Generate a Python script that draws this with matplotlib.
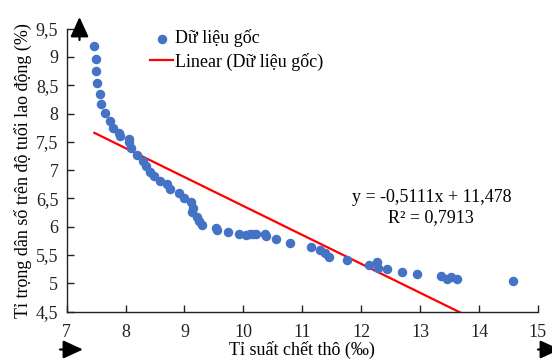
import numpy as np
import matplotlib
matplotlib.use("Agg")
import matplotlib.pyplot as plt
from matplotlib.ticker import FuncFormatter, MultipleLocator

# data
cdr = [7.47, 7.49, 7.49, 7.51, 7.57, 7.59, 7.65, 7.74, 7.79, 7.88,
       7.91, 8.05, 8.06, 8.10, 8.19, 8.30, 8.35, 8.41, 8.49, 8.58,
       8.70, 8.75, 8.90, 8.99, 9.11, 9.14, 9.13, 9.22, 9.25, 9.30,
       9.54, 9.56, 9.74, 9.93, 10.05, 10.11, 10.17, 10.21, 10.36, 10.39,
       10.55, 10.79, 11.15, 11.30, 11.38, 11.46, 11.76, 12.13, 12.26, 12.29,
       12.44, 12.69, 12.94, 13.36, 13.46, 13.53, 13.62, 14.58]
share = [9.20, 8.97, 8.75, 8.54, 8.35, 8.17, 8.01, 7.87, 7.74, 7.66,
         7.60, 7.55, 7.49, 7.39, 7.27, 7.17, 7.07, 6.97, 6.90, 6.81,
         6.75, 6.66, 6.59, 6.50, 6.43, 6.34, 6.26, 6.18, 6.11, 6.04,
         5.98, 5.94, 5.90, 5.87, 5.85, 5.87, 5.87, 5.88, 5.87, 5.84,
         5.78, 5.71, 5.65, 5.59, 5.53, 5.46, 5.41, 5.33, 5.37, 5.28,
         5.25, 5.21, 5.17, 5.13, 5.08, 5.11, 5.07, 5.04]

slope = -0.5111
intercept = 11.478
r2 = 0.7913

plt.rcParams['font.family'] = ['Liberation Serif', 'DejaVu Serif']

fig = plt.figure(figsize=(5.52, 3.61), dpi=100)
ax = fig.add_axes([0.1208, 0.1366, 0.8537, 0.7839])

ax.scatter(cdr, share, s=34, color="#4472C4", zorder=3, label="Dữ liệu gốc")
xl = np.array([min(cdr), max(cdr)])
ax.plot(xl, slope * xl + intercept, color="red", lw=1.6, label="Linear (Dữ liệu gốc)")

ax.set_xlim(7, 15)
ax.set_ylim(4.5, 9.5)
ax.xaxis.set_major_locator(MultipleLocator(1))
ax.yaxis.set_major_locator(MultipleLocator(0.5))
comma = FuncFormatter(lambda v, p: ("%g" % v).replace(".", ","))
ax.xaxis.set_major_formatter(comma)
ax.yaxis.set_major_formatter(comma)
ax.tick_params(direction="in", length=5, width=1, labelsize=13, colors="#222222", pad=6)
ax.tick_params(axis="x", pad=9)
for s in ["top", "right"]:
    ax.spines[s].set_visible(False)
for s in ["left", "bottom"]:
    ax.spines[s].set_color("#222222")
    ax.spines[s].set_linewidth(1)

ax.set_xlabel("Tỉ suất chết thô (‰)", fontsize=13, labelpad=0)
ax.set_ylabel("Tỉ trọng dân số trên độ tuổi lao động (%)", fontsize=13, labelpad=3)

ax.text(13.19, 6.51, "y = -0,5111x + 11,478", fontsize=13, ha="center", va="center")
ax.text(13.19, 6.16, "R² = 0,7913", fontsize=13, ha="center", va="center")

ax.legend(loc="upper left", bbox_to_anchor=(0.266, 0.929), bbox_transform=fig.transFigure,
          frameon=False, fontsize=13, handlelength=1.27, handletextpad=0.1,
          labelspacing=0.3, borderpad=0.2, borderaxespad=0)

# decorative arrows
arr = dict(arrowstyle="-|>,head_length=1.2,head_width=0.55", color="black", lw=1.6,
           mutation_scale=10, shrinkA=0, shrinkB=0)
ax.annotate("", xy=(79.5 / 552, 1 - 17 / 361), xytext=(79.5 / 552, 1 - 40 / 361),
            xycoords="figure fraction", textcoords="figure fraction", arrowprops=arr)
ax.annotate("", xy=(83 / 552, 1 - 349.5 / 361), xytext=(60 / 552, 1 - 349.5 / 361),
            xycoords="figure fraction", textcoords="figure fraction", arrowprops=arr)
ax.annotate("", xy=(560 / 552, 1 - 349.5 / 361), xytext=(538 / 552, 1 - 349.5 / 361),
            xycoords="figure fraction", textcoords="figure fraction", arrowprops=arr)

plt.savefig("out.png", dpi=100)
